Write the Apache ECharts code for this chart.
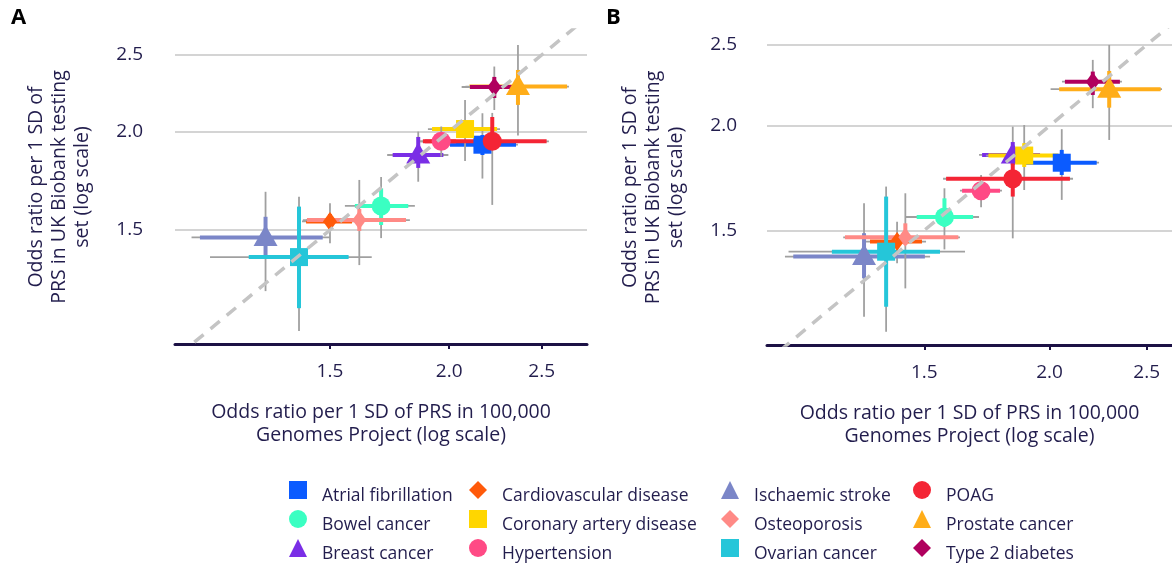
<!DOCTYPE html>
<html><head><meta charset="utf-8">
<script src="https://cdn.jsdelivr.net/npm/echarts@6/dist/echarts.min.js"></script>
<style>html,body{margin:0;padding:0;background:#fff}#c{width:1172px;height:567px}</style>
</head><body><div id="c"></div>
<script>
// ---------- data ----------
const diseases = ['Atrial fibrillation','Bowel cancer','Breast cancer','Cardiovascular disease','Coronary artery disease','Hypertension','Ischaemic stroke','Osteoporosis','Ovarian cancer','POAG','Prostate cancer','Type 2 diabetes'];
const tickValues = [1.5, 2.0, 2.5];

// Panel A : x = 100,000 Genomes Project OR, y = UK Biobank testing set OR
const gpA_or      = [2.167, 1.697, 1.856, 1.500, 2.078, 1.962, 1.284, 1.610, 1.392, 2.219, 2.361, 2.230];
const ukbA_or     = [1.924, 1.609, 1.867, 1.538, 2.014, 1.943, 1.468, 1.544, 1.386, 1.943, 2.280, 2.277];
const gpA_in_lo   = [2.004, 1.593, 1.745, 1.416, 1.919, 1.886, 1.096, 1.419, 1.233, 1.877, 2.100, 2.103];
const gpA_in_hi   = [2.350, 1.812, 1.972, 1.582, 2.245, 2.033, 1.474, 1.802, 1.569, 2.530, 2.658, 2.363];
const gpA_out_lo  = [1.994, 1.555, 1.722, 1.402, 1.900, 1.864, 1.074, 1.405, 1.123, 1.864, 2.080, 2.061];
const gpA_out_hi  = [2.361, 1.841, 1.996, 1.597, 2.261, 2.053, 1.500, 1.819, 1.659, 2.544, 2.670, 2.373];
const ukbA_in_lo  = [1.867, 1.522, 1.798, 1.504, 1.968, 1.895, 1.394, 1.496, 1.194, 1.895, 2.161, 2.205];
const ukbA_in_hi  = [1.979, 1.694, 1.968, 1.572, 2.062, 1.991, 1.559, 1.595, 1.606, 2.086, 2.393, 2.345];
const ukbA_out_lo = [1.743, 1.465, 1.727, 1.443, 1.835, 1.858, 1.255, 1.354, 1.117, 1.614, 1.976, 2.129];
const ukbA_out_hi = [2.109, 1.751, 1.999, 1.622, 2.192, 2.029, 1.677, 1.736, 1.653, 2.111, 2.574, 2.417];

// Panel B
const gpB_or      = [2.057, 1.571, 1.838, 1.409, 1.887, 1.709, 1.306, 1.436, 1.374, 1.838, 2.294, 2.209];
const ukbB_or     = [1.807, 1.556, 1.846, 1.454, 1.843, 1.673, 1.395, 1.471, 1.414, 1.729, 2.213, 2.259];
const gpB_in_lo   = [1.890, 1.474, 1.713, 1.324, 1.738, 1.636, 1.110, 1.250, 1.213, 1.577, 2.045, 2.072];
const gpB_in_hi   = [2.229, 1.678, 1.957, 1.492, 2.041, 1.785, 1.502, 1.622, 1.555, 2.096, 2.582, 2.351];
const gpB_out_lo  = [1.882, 1.438, 1.701, 1.312, 1.729, 1.628, 1.089, 1.245, 1.098, 1.566, 2.005, 2.058];
const gpB_out_hi  = [2.241, 1.701, 1.966, 1.506, 2.049, 1.793, 1.520, 1.628, 1.647, 2.111, 2.590, 2.362];
const ukbB_in_lo  = [1.747, 1.514, 1.796, 1.429, 1.786, 1.635, 1.314, 1.441, 1.215, 1.646, 2.103, 2.178];
const ukbB_in_hi  = [1.872, 1.638, 1.913, 1.481, 1.907, 1.709, 1.488, 1.529, 1.646, 1.821, 2.327, 2.323];
const ukbB_out_lo = [1.631, 1.423, 1.700, 1.370, 1.676, 1.598, 1.182, 1.278, 1.134, 1.467, 1.924, 2.100];
const ukbB_out_hi = [1.982, 1.684, 1.996, 1.536, 2.005, 1.747, 1.616, 1.661, 1.692, 1.882, 2.500, 2.399];

const identityLine = [1.0, 3.0];

// ---------- styles ----------
const colors = ['#0b5bff','#3affc2','#7a2ee6','#ff5a0a','#ffd600','#ff4a85','#7b86c8','#ff8a86','#25c6d9','#f42535','#ffad19','#b0005e'];
const shapes = ['rect','circle','triangle','diamond','rect','circle','triangle','diamond','rect','circle','triangle','diamond'];
const symSize = {rect: 18, circle: 19, triangle: [24, 21], diamond: [14, 19]};
const symOffset = {rect: [0,0], circle: [0,0], triangle: [0,-2], diamond: [0,0]};
const TEXT = '#221d4d';
const AXIS = '#1c1145';
const FONT = "'Open Sans', sans-serif";
const GRAY = '#a0a0a0';

const panels = [
  {gp: gpA_or, ukb: ukbA_or, gin: [gpA_in_lo, gpA_in_hi], gout: [gpA_out_lo, gpA_out_hi], uin: [ukbA_in_lo, ukbA_in_hi], uout: [ukbA_out_lo, ukbA_out_hi],
   grid: {left: 175, right: 585, top: 30, bottom: 223}, xMin: 1.032, xMax: 2.789, yMin: 1.0755, yMax: 2.689, yGap: 81, lblMargin: 32},
  {gp: gpB_or, ukb: ukbB_or, gin: [gpB_in_lo, gpB_in_hi], gout: [gpB_out_lo, gpB_out_hi], uin: [ukbB_in_lo, ukbB_in_hi], uout: [ukbB_out_lo, ukbB_out_hi],
   grid: {left: 767, right: 0, top: 30, bottom: 222}, xMin: 1.045, xMax: 2.650, yMin: 1.0934, yMax: 2.605, yGap: 79, lblMargin: 30}
];

function renderBars(color) {
  return function (params, api) {
    const x = api.value(0), y = api.value(1);
    const seg = (a, b) => ({x1: a[0], y1: a[1], x2: b[0], y2: b[1]});
    const gh = seg(api.coord([api.value(2), y]), api.coord([api.value(3), y]));
    const gv = seg(api.coord([x, api.value(4)]), api.coord([x, api.value(5)]));
    const ch = seg(api.coord([api.value(6), y]), api.coord([api.value(7), y]));
    const cv = seg(api.coord([x, api.value(8)]), api.coord([x, api.value(9)]));
    return {type: 'group', children: [
      {type: 'line', shape: gh, style: {stroke: GRAY, lineWidth: 1.8}},
      {type: 'line', shape: gv, style: {stroke: GRAY, lineWidth: 1.8}},
      {type: 'line', shape: ch, style: {stroke: color, lineWidth: 4}},
      {type: 'line', shape: cv, style: {stroke: color, lineWidth: 4}}
    ]};
  };
}

const grids = [], xAxes = [], yAxes = [], series = [];
panels.forEach((p, k) => {
  grids.push(Object.assign({outerBoundsMode: 'none', containLabel: false}, p.grid));
  xAxes.push({
    type: 'log', gridIndex: k, min: p.xMin, max: p.xMax,
    axisLine: {show: true, onZero: false, lineStyle: {color: AXIS, width: 3}},
    axisTick: {show: true, customValues: tickValues, length: 5, lineStyle: {color: AXIS, width: 2}},
    axisLabel: {customValues: tickValues, formatter: v => Number(v).toFixed(1), margin: 18, fontSize: 19, color: TEXT, fontFamily: FONT},
    splitLine: {show: false}, minorTick: {show: false},
    name: 'Odds ratio per 1 SD of PRS in 100,000\nGenomes Project (log scale)',
    nameLocation: 'middle', nameGap: 57,
    nameTextStyle: {fontSize: 19.5, lineHeight: 23, color: TEXT, fontFamily: FONT, align: 'center'}
  });
  yAxes.push({
    type: 'log', gridIndex: k, min: p.yMin, max: p.yMax,
    axisLine: {show: false}, axisTick: {show: false, customValues: tickValues},
    axisLabel: {customValues: tickValues, formatter: v => Number(v).toFixed(1), margin: p.lblMargin, fontSize: 19, color: TEXT, fontFamily: FONT},
    splitLine: {show: true, lineStyle: {color: '#c6c6c6', width: 1.6}},
    name: 'Odds ratio per 1 SD of\nPRS in UK Biobank testing\nset (log scale)',
    nameLocation: 'middle', nameRotate: 90, nameGap: p.yGap,
    nameTextStyle: {fontSize: 19.5, lineHeight: 23, color: TEXT, fontFamily: FONT, align: 'center'}
  });
  diseases.forEach((d, i) => {
    series.push({
      type: 'custom', name: d, xAxisIndex: k, yAxisIndex: k, silent: true,
      itemStyle: {color: colors[i]},
      renderItem: renderBars(colors[i]),
      encode: {x: [0, 2, 3, 6, 7], y: [1, 4, 5, 8, 9]},
      data: [[p.gp[i], p.ukb[i], p.gout[0][i], p.gout[1][i], p.uout[0][i], p.uout[1][i], p.gin[0][i], p.gin[1][i], p.uin[0][i], p.uin[1][i]]]
    });
    series.push({
      type: 'scatter', name: d, xAxisIndex: k, yAxisIndex: k, silent: true,
      symbol: shapes[i], symbolSize: symSize[shapes[i]], symbolOffset: symOffset[shapes[i]],
      itemStyle: {color: colors[i], opacity: 1},
      emphasis: {disabled: true},
      data: [[p.gp[i], p.ukb[i]]]
    });
  });
  series.push({
    type: 'line', xAxisIndex: k, yAxisIndex: k, silent: true, symbol: 'none', clip: true,
    lineStyle: {color: '#c4c4c4', width: 3.5, type: [12, 9]},
    data: [[identityLine[0], identityLine[0]], [identityLine[1], identityLine[1]]]
  });
});

const legendCols = [[0,1,2],[3,4,5],[6,7,8],[9,10,11]];
const legendLeft = [289, 469, 721, 913];
const legends = legendCols.map((idx, c) => ({
  orient: 'vertical', left: legendLeft[c], top: 474, padding: 0, itemGap: -2,
  itemWidth: 18, itemHeight: 18, selectedMode: false,
  data: idx.map(i => ({name: diseases[i], icon: shapes[i]})),
  formatter: name => '{s| }\n{n|' + name + '}',
  textStyle: {
    fontSize: 17.5, color: TEXT, fontFamily: FONT,
    rich: {
      s: {fontSize: 2, lineHeight: 12, height: 12},
      n: {fontSize: 17.5, lineHeight: 20, color: TEXT, fontFamily: FONT, padding: [0, 0, 0, 10]}
    }
  }
}));

const chart = echarts.init(document.getElementById('c'), null, {renderer: 'canvas'});
chart.setOption({
  animation: false,
  backgroundColor: '#ffffff',
  title: [
    {text: 'A', left: 11, top: 7, padding: 0, textStyle: {fontSize: 22, fontWeight: 'bold', color: '#000', fontFamily: FONT}},
    {text: 'B', left: 606, top: 7, padding: 0, textStyle: {fontSize: 22, fontWeight: 'bold', color: '#000', fontFamily: FONT}}
  ],
  legend: legends,
  grid: grids,
  xAxis: xAxes,
  yAxis: yAxes,
  series: series
});
</script>
</body></html>
